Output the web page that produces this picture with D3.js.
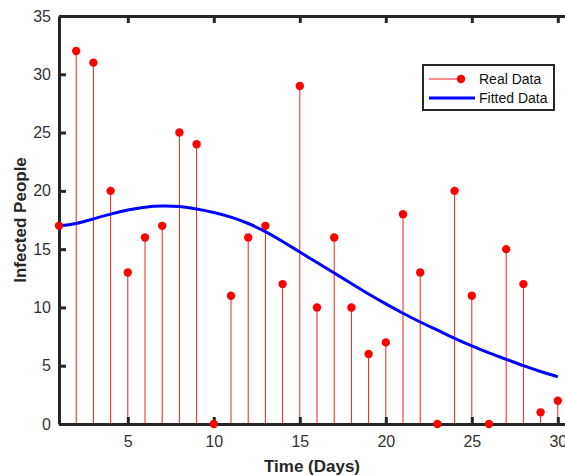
<!DOCTYPE html>
<html>
<head>
<meta charset="utf-8">
<script src="https://cdn.jsdelivr.net/npm/d3@7"></script>
<style>
  body { margin: 0; background: #fff; }
  svg { display: block; font-family: "Liberation Sans", Arial, sans-serif; }
</style>
</head>
<body>
<div id="chart"></div>
<script>
// days and observed cases
var days = d3.range(1, 31);
var infected = [17, 32, 31, 20, 13, 16, 17, 25, 24, 0, 11, 16, 17, 12, 29, 10, 16, 10, 6, 7, 18, 13, 0, 20, 11, 0, 15, 12, 1, 2];
// fitted curve
var fitted = [17.0, 17.2, 17.6, 18.0, 18.35, 18.6, 18.7, 18.65, 18.45, 18.15, 17.75, 17.2, 16.5, 15.65, 14.75, 13.85, 12.95, 12.05, 11.15, 10.3, 9.5, 8.75, 8.05, 7.35, 6.7, 6.1, 5.55, 5.0, 4.5, 4.05];
var xTicks = [5, 10, 15, 20, 25, 30];
var yTicks = [0, 5, 10, 15, 20, 25, 30, 35];
var legendLabels = ["Real Data", "Fitted Data"];

var width = 565,
    height = 476;
var margin = { top: 16, bottom: 52, left: 59 };

var svg = d3.select("#chart")
    .append("svg")
    .attr("width", width)
    .attr("height", height);

var x = d3.scaleLinear()
    .domain([1, 31])
    .range([margin.left, margin.left + 30 * 17.2]);

var y = d3.scaleLinear()
    .domain([0, 35])
    .range([height - margin.bottom, margin.top]);

var x0 = x.range()[0];
var yb = y(0), yt = y(35);

// stems
svg.append("g")
    .selectAll("line")
    .data(days)
    .enter()
    .append("line")
    .attr("x1", d => x(d))
    .attr("x2", d => x(d))
    .attr("y1", yb)
    .attr("y2", (d, i) => y(infected[i]))
    .attr("stroke", "#f02020")
    .attr("stroke-width", 1);

// fitted line
var line = d3.line()
    .x((d, i) => x(days[i]))
    .y(d => y(d))
    .curve(d3.curveNatural);

svg.append("path")
    .datum(fitted)
    .attr("d", line)
    .attr("fill", "none")
    .attr("stroke", "#0000ff")
    .attr("stroke-width", 3);

// axes
var axisColor = "#262626";
var xAxis = svg.append("g")
    .attr("transform", "translate(0," + yb + ")")
    .call(d3.axisBottom(x).tickValues(xTicks).tickSizeInner(-7).tickSizeOuter(0).tickPadding(12));
var xTop = svg.append("g")
    .attr("transform", "translate(0," + yt + ")")
    .call(d3.axisTop(x).tickValues(xTicks).tickSizeInner(-7).tickSizeOuter(0).tickFormat(""));
var yAxis = svg.append("g")
    .attr("transform", "translate(" + x0 + ",0)")
    .call(d3.axisLeft(y).tickValues(yTicks).tickSizeInner(-7).tickSizeOuter(0).tickPadding(8));

[xAxis, xTop, yAxis].forEach(function (g) {
    g.select(".domain").attr("stroke", axisColor).attr("stroke-width", 3);
    g.selectAll(".tick line").attr("stroke", axisColor).attr("stroke-width", 3);
    g.selectAll(".tick text")
        .attr("fill", "#333")
        .attr("font-size", "16px")
        .attr("font-family", "Liberation Sans, Arial, sans-serif");
});

// dots
svg.append("g")
    .selectAll("circle")
    .data(days)
    .enter()
    .append("circle")
    .attr("cx", d => x(d))
    .attr("cy", (d, i) => y(infected[i]))
    .attr("r", 4.2)
    .attr("fill", "#ff0000");

// axis titles
svg.append("text")
    .attr("x", 312)
    .attr("y", 472)
    .attr("text-anchor", "middle")
    .attr("font-size", "17px")
    .attr("font-weight", "bold")
    .attr("fill", "#262626")
    .text("Time (Days)");

svg.append("text")
    .attr("transform", "translate(26," + ((yb + yt) / 2) + ") rotate(-90)")
    .attr("text-anchor", "middle")
    .attr("font-size", "17px")
    .attr("font-weight", "bold")
    .attr("fill", "#262626")
    .text("Infected People");

// legend
var legend = svg.append("g")
    .attr("transform", "translate(423,65)");

legend.append("rect")
    .attr("width", 131)
    .attr("height", 45)
    .attr("fill", "#fff")
    .attr("stroke", "#262626")
    .attr("stroke-width", 2);

legend.append("line")
    .attr("x1", 6).attr("x2", 38)
    .attr("y1", 14).attr("y2", 14)
    .attr("stroke", "#f02020").attr("stroke-width", 1);
legend.append("circle")
    .attr("cx", 38).attr("cy", 14).attr("r", 4.2)
    .attr("fill", "#ff0000");
legend.append("line")
    .attr("x1", 6).attr("x2", 52)
    .attr("y1", 33).attr("y2", 33)
    .attr("stroke", "#0000ff").attr("stroke-width", 3);

legend.selectAll("text.lab")
    .data(legendLabels)
    .enter()
    .append("text")
    .attr("class", "lab")
    .attr("x", 56)
    .attr("y", (d, i) => 14 + i * 19)
    .attr("dy", "0.35em")
    .attr("font-size", "14px")
    .attr("fill", "#111")
    .text(d => d);
</script>
</body>
</html>
